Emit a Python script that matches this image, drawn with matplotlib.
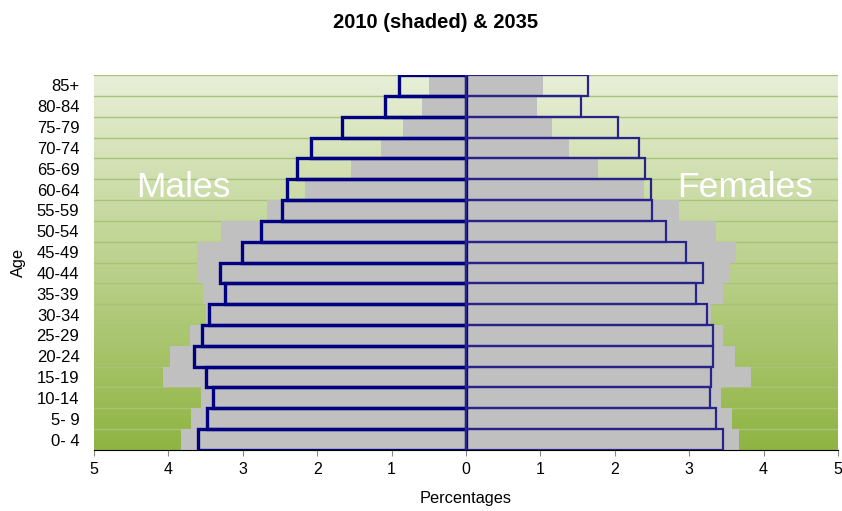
import matplotlib
matplotlib.use("Agg")
import matplotlib.pyplot as plt
import numpy as np
from matplotlib.colors import LinearSegmentedColormap

plt.rcParams["font.family"] = ["Liberation Sans", "DejaVu Sans"]

age_groups = ["0- 4", "5- 9", "10-14", "15-19", "20-24", "25-29", "30-34", "35-39",
              "40-44", "45-49", "50-54", "55-59", "60-64", "65-69", "70-74", "75-79",
              "80-84", "85+"]
male_2010 = [3.83, 3.70, 3.56, 4.07, 3.98, 3.71, 3.49, 3.54, 3.61, 3.62, 3.29, 2.67,
             2.16, 1.55, 1.14, 0.85, 0.59, 0.50]
male_2035 = [3.60, 3.48, 3.40, 3.49, 3.66, 3.55, 3.46, 3.24, 3.31, 3.01, 2.76, 2.47,
             2.41, 2.27, 2.08, 1.67, 1.09, 0.90]
female_2010 = [3.67, 3.57, 3.43, 3.83, 3.61, 3.46, 3.30, 3.45, 3.55, 3.63, 3.36, 2.86,
               2.39, 1.77, 1.39, 1.16, 0.96, 1.03]
female_2035 = [3.46, 3.36, 3.28, 3.30, 3.32, 3.32, 3.24, 3.09, 3.18, 2.96, 2.69, 2.50,
               2.49, 2.41, 2.33, 2.04, 1.54, 1.64]
x_ticks = [-5, -4, -3, -2, -1, 0, 1, 2, 3, 4, 5]

y = np.arange(len(age_groups))

fig = plt.figure(figsize=(8.42, 5.11), dpi=100)
ax = fig.add_axes([0.1116, 0.1194, 0.8836, 0.7338])

# green gradient background
cmap = LinearSegmentedColormap.from_list("bg", ["#8fb442", "#e8efd8"])
grad = np.linspace(0, 1, 256).reshape(-1, 1)
ax.imshow(grad, cmap=cmap, origin="lower", aspect="auto",
          extent=[-5, 5, -0.5, len(age_groups) - 0.5], zorder=0)

# row separators
for b in np.arange(0.5, len(age_groups), 1.0):
    ax.axhline(b, color="#a9c27a", linewidth=1, zorder=1)

# 2010 shaded
ax.barh(y, -np.array(male_2010), height=1.0, color="#c0c0c0", zorder=2)
ax.barh(y, female_2010, height=1.0, color="#c0c0c0", zorder=2)

# 2035 outlines
ax.barh(y, -np.array(male_2035), height=1.0, facecolor="none",
        edgecolor="#000080", linewidth=2.4, zorder=3)
ax.barh(y, female_2035, height=1.0, facecolor="none",
        edgecolor="#27238a", linewidth=1.6, zorder=3)

ax.set_xlim(-5, 5)
ax.set_ylim(-0.5, len(age_groups) - 0.5)
ax.set_xticks(x_ticks)
ax.set_xticklabels([str(abs(t)) for t in x_ticks], fontsize=11.5)
ax.set_yticks(y)
ax.set_yticklabels(age_groups, fontsize=12)
ax.tick_params(axis="y", length=0, pad=10.5)
ax.tick_params(axis="x", length=4, color="#888888", pad=5)
for s in ["top", "right", "left"]:
    ax.spines[s].set_visible(False)
ax.spines["bottom"].set_color("black")

ax.text(-3.8, 12.1, "Males", color="white", fontsize=25.5, ha="center", va="center", zorder=4)
ax.text(3.75, 12.1, "Females", color="white", fontsize=25.5, ha="center", va="center", zorder=4)

ax.set_xlabel("Percentages", fontsize=11.8, labelpad=10)
ax.set_ylabel("Age", fontsize=11.8)
ax.yaxis.set_label_coords(-0.091, 0.5)
fig.text(0.517, 0.955, "2010 (shaded) & 2035", fontsize=14.5, fontweight="bold",
         ha="center", va="center")

fig.savefig("out.png", dpi=100)
